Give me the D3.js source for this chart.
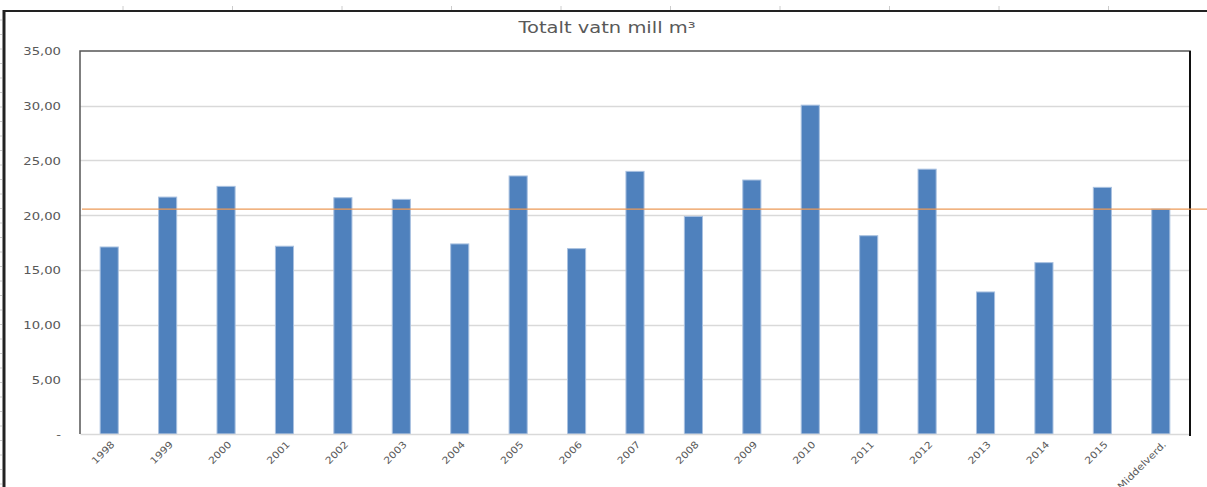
<!DOCTYPE html>
<html>
<head>
<meta charset="utf-8">
<script src="https://cdn.jsdelivr.net/npm/d3@7"></script>
<style>
  body { margin: 0; background: #fff; }
  svg { display: block; font-family: "DejaVu Sans", sans-serif; }
</style>
</head>
<body>
<div id="chart"></div>
<script>
/*
 * Data
 */
const categories = ['1998', '1999', '2000', '2001', '2002', '2003', '2004', '2005', '2006',
  '2007', '2008', '2009', '2010', '2011', '2012', '2013', '2014', '2015', 'Middelverd.']
const values = [17.09, 21.65, 22.63, 17.16, 21.59, 21.44, 17.37, 23.58, 16.94,
  24.00, 19.88, 23.21, 30.05, 18.12, 24.20, 12.98, 15.66, 22.54, 20.55]
const meanValue = 20.55
const yTicks = [0, 5, 10, 15, 20, 25, 30, 35]
const title = 'Totalt vatn mill m³'

/*
 * Layout
 */
const w = 1207
const h = 487
const plot = { left: 80, top: 51, right: 1190, bottom: 434 }
const textColor = '#595959'

const svg = d3.select('#chart')
  .append('svg')
  .attr('width', w)
  .attr('height', h)

const x = d3.scaleBand()
  .domain(categories)
  .range([plot.left, plot.right])
  .paddingInner(0.69)
  .paddingOuter(0.345)

const y = d3.scaleLinear()
  .domain([0, 35])
  .range([plot.bottom, plot.top])

const fmt = v => v === 0 ? '-' : d3.format('.2f')(v).replace('.', ',')

// sheet frame (top and left edges with little ruler ticks)
const frame = svg.append('g').attr('id', 'frame')
frame.append('line')
  .attr('x1', 3).attr('x2', w).attr('y1', 11).attr('y2', 11)
  .style('stroke', '#222').style('stroke-width', 2)
frame.append('line')
  .attr('x1', 4).attr('x2', 4).attr('y1', 10).attr('y2', h)
  .style('stroke', '#222').style('stroke-width', 3)
frame.selectAll('.tt')
  .data(d3.range(123, w, 109.5))
  .enter().append('line')
  .attr('x1', d => d).attr('x2', d => d).attr('y1', 6).attr('y2', 10)
  .style('stroke', '#ccc')
frame.selectAll('.lt')
  .data(d3.range(20, h, 14.5))
  .enter().append('line')
  .attr('x1', 0).attr('x2', 2).attr('y1', d => d).attr('y2', d => d)
  .style('stroke', '#ccc')

// title (the source picture is stretched sideways, so the text is too)
svg.append('text')
  .attr('transform', 'translate(607,33) scale(1.3,1)')
  .attr('text-anchor', 'middle')
  .style('font-size', '15px')
  .style('fill', textColor)
  .text(title)

// gridlines
svg.append('g')
  .attr('id', 'grid')
  .selectAll('line')
  .data(yTicks.filter(d => d > 0 && d < 35))
  .enter()
  .append('line')
  .attr('x1', plot.left).attr('x2', plot.right)
  .attr('y1', d => Math.round(y(d)) + 0.5).attr('y2', d => Math.round(y(d)) + 0.5)
  .style('stroke', '#d9d9d9')
  .style('stroke-width', 1.5)

// y axis labels
const yAxis = svg.append('g')
  .attr('transform', `translate(${plot.left - 19},0)`)
  .call(d3.axisLeft(y).tickValues(yTicks).tickFormat(fmt).tickSize(0))
yAxis.select('.domain').remove()
yAxis.selectAll('text')
  .style('font-family', '"DejaVu Sans", sans-serif')
  .style('font-size', '11px')
  .style('fill', textColor)
  .attr('x', 0)
  .attr('dy', '0.36em')
  .attr('transform', 'scale(1.2,1)')

// bars
svg.append('g')
  .attr('id', 'bars')
  .selectAll('rect')
  .data(values)
  .enter()
  .append('rect')
  .attr('x', (d, i) => x(categories[i]))
  .attr('width', x.bandwidth())
  .attr('y', d => y(d))
  .attr('height', d => y(0) - y(d))
  .style('fill', '#4f81bd')
  .style('stroke', '#a9c1e0')
  .style('stroke-width', 1)

// x axis
const xAxis = svg.append('g')
  .attr('transform', `translate(0,${plot.bottom})`)
  .call(d3.axisBottom(x).tickSize(0))
xAxis.select('.domain')
  .style('stroke', '#d9d9d9')
  .style('stroke-width', 1.5)
xAxis.selectAll('text')
  .style('font-family', '"DejaVu Sans", sans-serif')
  .style('font-size', '9.5px')
  .style('fill', textColor)
  .attr('text-anchor', 'end')
  .attr('x', 0)
  .attr('y', 0)
  .attr('dy', 0)
  .attr('transform', 'translate(6,11) rotate(-45) scale(1.15,1)')

// plot border
svg.append('path')
  .attr('d', `M${plot.left},${plot.bottom}V${plot.top}H${plot.right}V${plot.bottom}`)
  .style('fill', 'none')
  .style('stroke', '#555')
  .style('stroke-width', 1.5)
svg.append('line')
  .attr('x1', plot.right).attr('x2', plot.right)
  .attr('y1', plot.top).attr('y2', plot.bottom + 2)
  .style('stroke', '#111')
  .style('stroke-width', 2)

// mean line
svg.append('line')
  .attr('x1', plot.left + 2).attr('x2', w)
  .attr('y1', y(meanValue)).attr('y2', y(meanValue))
  .style('stroke', '#ec9a57')
  .style('stroke-width', 1.2)
</script>
</body>
</html>
